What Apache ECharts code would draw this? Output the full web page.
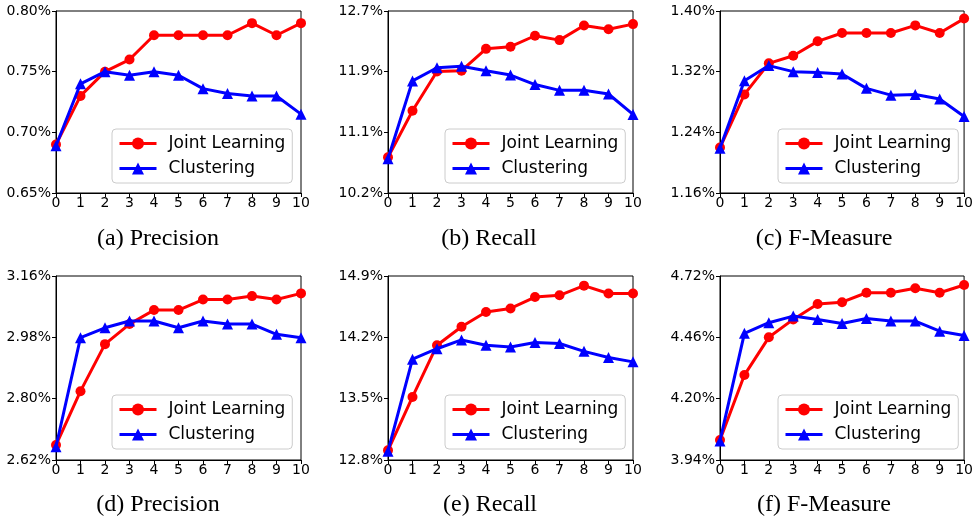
<!DOCTYPE html>
<html><head><meta charset="utf-8">
<script src="https://cdn.jsdelivr.net/npm/echarts@6/dist/echarts.min.js"></script>
<style>html,body{margin:0;padding:0;background:#fff}#c{width:976px;height:518px}</style>
</head><body><div id="c"></div>
<script>
// ---------------- data ----------------
const xValues = [0, 1, 2, 3, 4, 5, 6, 7, 8, 9, 10];
const seriesNames = ['Joint Learning', 'Clustering'];
const captions = ['(a) Precision', '(b) Recall', '(c) F-Measure', '(d) Precision', '(e) Recall', '(f) F-Measure'];

const yTicksA = [0.65, 0.70, 0.75, 0.80];
const yTicksB = [10.2, 11.1, 11.9, 12.7];
const yTicksC = [1.16, 1.24, 1.32, 1.40];
const yTicksD = [2.62, 2.80, 2.98, 3.16];
const yTicksE = [12.8, 13.5, 14.2, 14.9];
const yTicksF = [3.94, 4.20, 4.46, 4.72];
const yDecimals = [2, 1, 2, 2, 1, 2];

const jointA   = [0.690, 0.730, 0.750, 0.760, 0.780, 0.780, 0.780, 0.780, 0.790, 0.780, 0.790];
const clusterA = [0.689, 0.740, 0.750, 0.747, 0.750, 0.747, 0.736, 0.732, 0.730, 0.730, 0.715];

const jointB   = [10.69, 11.33, 11.87, 11.88, 12.18, 12.21, 12.36, 12.30, 12.50, 12.45, 12.52];
const clusterB = [10.67, 11.74, 11.92, 11.94, 11.88, 11.82, 11.69, 11.61, 11.61, 11.56, 11.28];

const jointC   = [1.220, 1.290, 1.331, 1.341, 1.360, 1.371, 1.371, 1.371, 1.381, 1.371, 1.390];
const clusterC = [1.219, 1.308, 1.328, 1.320, 1.319, 1.317, 1.298, 1.289, 1.290, 1.284, 1.261];

const jointD   = [2.664, 2.822, 2.960, 3.019, 3.060, 3.060, 3.091, 3.091, 3.101, 3.091, 3.109];
const clusterD = [2.659, 2.979, 3.008, 3.028, 3.028, 3.008, 3.028, 3.019, 3.019, 2.989, 2.979];

const jointE   = [12.91, 13.52, 14.11, 14.32, 14.49, 14.53, 14.66, 14.68, 14.79, 14.70, 14.70];
const clusterE = [12.90, 13.95, 14.07, 14.17, 14.11, 14.09, 14.14, 14.13, 14.04, 13.97, 13.92];

const jointF   = [4.025, 4.300, 4.460, 4.536, 4.601, 4.609, 4.649, 4.649, 4.668, 4.649, 4.682];
const clusterF = [4.021, 4.477, 4.522, 4.550, 4.536, 4.519, 4.540, 4.529, 4.529, 4.486, 4.468];

// ---------------- layout ----------------
const yTickSets = [yTicksA, yTicksB, yTicksC, yTicksD, yTicksE, yTicksF];
const jointSets = [jointA, jointB, jointC, jointD, jointE, jointF];
const clusterSets = [clusterA, clusterB, clusterC, clusterD, clusterE, clusterF];

const gridRects = [
  {left: 56,  top: 11,  width: 245, height: 182},
  {left: 388, top: 11,  width: 245, height: 182},
  {left: 720, top: 11,  width: 246, height: 182},
  {left: 56,  top: 276, width: 245, height: 184},
  {left: 388, top: 276, width: 245, height: 184},
  {left: 720, top: 276, width: 246, height: 184}
];
const legendPos = [
  {left: 112, top: 129}, {left: 445, top: 129}, {left: 778, top: 129},
  {left: 112, top: 395}, {left: 445, top: 395}, {left: 778, top: 395}
];
const captionPos = [
  [158, 239], [489, 239], [824, 239],
  [158, 505], [490, 505], [824, 505]
];

const RED = '#ff0000', BLUE = '#0000ff';
const tickFont = {fontFamily: 'DejaVu Sans', fontSize: 14, color: '#000'};

const grids = [], xAxes = [], yAxes = [], series = [], legends = [], graphics = [];

for (let i = 0; i < 6; i++) {
  const ticks = yTickSets[i];
  const lo = ticks[0], hi = ticks[ticks.length - 1];
  const n = ticks.length;
  const positions = ticks.map((_, k) => lo + (hi - lo) * k / (n - 1));
  const dec = yDecimals[i];

  grids.push(Object.assign({show: true, borderColor: '#000', borderWidth: 1, backgroundColor: 'transparent'}, gridRects[i]));

  xAxes.push({
    type: 'value', gridIndex: i, min: 0, max: 10, interval: 1,
    axisLine: {show: true, onZero: false, lineStyle: {color: '#000', width: 1}},
    axisTick: {show: true, inside: false, length: 4, lineStyle: {color: '#000', width: 1}},
    axisLabel: Object.assign({margin: 3, showMinLabel: true, showMaxLabel: true}, tickFont),
    splitLine: {show: false}
  });

  yAxes.push({
    type: 'value', gridIndex: i, min: lo, max: hi,
    axisLine: {show: true, onZero: false, lineStyle: {color: '#000', width: 1}},
    axisTick: {show: true, inside: false, length: 4, customValues: positions, lineStyle: {color: '#000', width: 1}},
    axisLabel: Object.assign({
      margin: 5,
      customValues: positions,
      formatter: function (v) {
        let best = 0, bd = Infinity;
        positions.forEach((p, k) => { const d = Math.abs(p - v); if (d < bd) { bd = d; best = k; } });
        return ticks[best].toFixed(dec) + '%';
      }
    }, tickFont),
    splitLine: {show: false}
  });

  series.push({
    name: seriesNames[0], type: 'line', xAxisIndex: i, yAxisIndex: i,
    data: xValues.map((x, k) => [x, jointSets[i][k]]),
    symbol: 'circle', symbolSize: 10, showAllSymbol: true,
    lineStyle: {color: RED, width: 3}, itemStyle: {color: RED},
    animation: false, z: 2
  });
  series.push({
    name: seriesNames[1], type: 'line', xAxisIndex: i, yAxisIndex: i,
    data: xValues.map((x, k) => [x, clusterSets[i][k]]),
    symbol: 'triangle', symbolSize: 11, showAllSymbol: true,
    lineStyle: {color: BLUE, width: 3}, itemStyle: {color: BLUE},
    animation: false, z: 3
  });

  legends.push({
    data: seriesNames, orient: 'vertical',
    left: legendPos[i].left, top: legendPos[i].top,
    padding: [6, 7, 6, 6], itemWidth: 37, itemHeight: 15, itemGap: 8,
    selectedMode: false,
    lineStyle: {width: 3},
    backgroundColor: 'rgba(255,255,255,0.85)', borderColor: '#cccccc', borderWidth: 1, borderRadius: 4,
    textStyle: {fontFamily: 'DejaVu Sans', fontSize: 17, color: '#000', padding: [0, 0, 0, 7]}
  });

  graphics.push({
    type: 'text', x: captionPos[i][0], y: captionPos[i][1],
    style: {text: captions[i], fill: '#000', font: '24px "Liberation Serif", "DejaVu Serif", serif',
            textAlign: 'center', textVerticalAlign: 'middle'}
  });
}

const chart = echarts.init(document.getElementById('c'), null, {renderer: 'canvas'});
chart.setOption({
  animation: false,
  backgroundColor: '#fff',
  grid: grids, xAxis: xAxes, yAxis: yAxes, series: series, legend: legends, graphic: graphics
});
</script></body></html>
